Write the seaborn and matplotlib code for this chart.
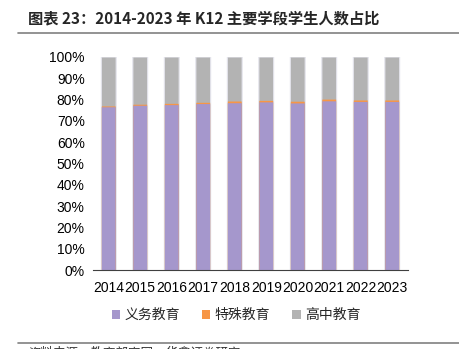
import matplotlib
matplotlib.use("Agg")
import matplotlib.pyplot as plt
import seaborn as sns
import pandas as pd
import numpy as np
from matplotlib.patches import Patch
from matplotlib.ticker import FuncFormatter

years = ["2014", "2015", "2016", "2017", "2018", "2019", "2020", "2021", "2022", "2023"]
compulsory = [76.4, 77.1, 77.4, 77.9, 78.3, 78.7, 78.2, 79.2, 78.9, 78.9]
special = [0.4, 0.5, 0.6, 0.6, 0.8, 0.7, 0.8, 0.8, 0.7, 0.7]
high_school = [100 - c - s for c, s in zip(compulsory, special)]
series_names = ["义务教育", "特殊教育", "高中教育"]
colors = ["#A597CC", "#F79646", "#B3B3B3"]

sns.set_theme(style="white")
plt.rcParams['font.family'] = ['Liberation Sans', 'Noto Sans CJK SC', 'DejaVu Sans']

df = pd.DataFrame({"year": years, "c": compulsory, "s": special, "h": high_school})
df["cum1"] = df["c"]
df["cum2"] = df["c"] + df["s"]
df["cum3"] = df["c"] + df["s"] + df["h"]

fig = plt.figure(figsize=(4.6, 3.49), dpi=100)
ax = fig.add_axes([93/460, 1 - 270/349, 315/460, 213/349])

sns.barplot(data=df, x="year", y="cum3", color=colors[2], width=0.47, ax=ax,
            saturation=1, edgecolor="#E4E4EC", linewidth=0.8)
for col, colr in [("cum2", colors[1]), ("cum1", colors[0])]:
    sns.barplot(data=df, x="year", y=col, color=colr, width=0.44, ax=ax,
                saturation=1, linewidth=0)
for p in ax.patches:
    p.set_snap(False)

ax.set_ylim(0, 100)
ax.set_xlim(-0.5, len(years) - 0.5)
ax.set_yticks(np.arange(0, 101, 10))
ax.yaxis.set_major_formatter(FuncFormatter(lambda v, p: f"{int(v)}%"))
ax.set_xlabel("")
ax.set_ylabel("")
for sp in ["top", "right", "left"]:
    ax.spines[sp].set_visible(False)
ax.spines["bottom"].set_color("#404040")
ax.spines["bottom"].set_linewidth(0.8)
ax.tick_params(axis="y", length=0, labelsize=10, pad=6, colors="#000000")
ax.tick_params(axis="x", length=0, labelsize=10, pad=8, colors="#000000")
ax.set_xticks(np.arange(-0.5, len(years), 1), minor=True)
ax.tick_params(axis="x", which="minor", length=3, width=0.8, color="#404040", direction="in")

handles = [Patch(facecolor=c, edgecolor="none") for c in colors]
fig.legend(handles, series_names, loc="center", bbox_to_anchor=(236/460, 1 - 315/349),
           ncol=3, frameon=False, handlelength=0.6, handleheight=0.6,
           columnspacing=1.6, handletextpad=0.3,
           prop={"family": ["Noto Sans CJK SC"], "size": 10})

fig.text(28/460, 1 - 18/349, "图表 23：2014-2023 年 K12 主要学段学生人数占比",
         fontsize=11, fontweight="bold", va="center", ha="left",
         family=["Noto Sans CJK SC", "DejaVu Sans"])
fig.add_artist(plt.Line2D([18/460, 1.0], [1 - 33/349, 1 - 33/349], color="#808080", lw=1.2))
fig.add_artist(plt.Line2D([18/460, 1.0], [1 - 343/349, 1 - 343/349], color="#808080", lw=1.2))
fig.text(28/460, 1 - 353/349, "资料来源：教育部官网，华鑫证券研究",
         fontsize=9, va="center", ha="left", color="#333333",
         family=["Noto Sans CJK SC", "DejaVu Sans"])

fig.savefig("out.png", dpi=100)
